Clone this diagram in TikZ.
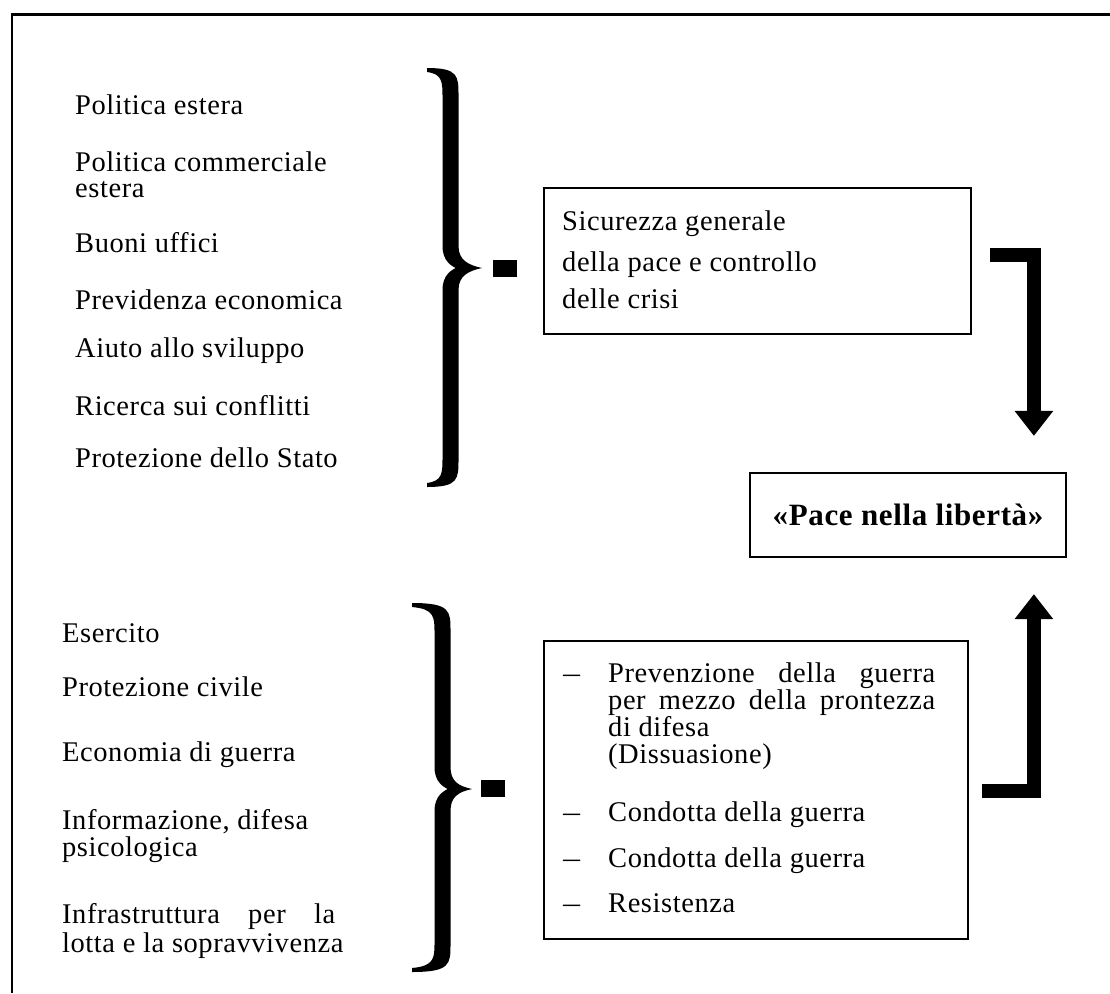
\documentclass[tikz,border=0pt]{standalone}
\usepackage{fontspec}
\setmainfont{Liberation Serif}[LetterSpace=2]
\usetikzlibrary{arrows.meta,calc}
\newcommand\mybrace[6]{% x0, xs, xt, ytop, ymid, ybot
\fill ({#1},{#4}) .. controls ({#2+8},{#4}) and ({#2+8},{#4+8}) .. ({#2+8},{#4+28})
 -- ({#2+8},{#5-22})
 .. controls ({#2+8},{#5-8}) and ({#3-14},{#5-3}) .. ({#3},{#5})
 .. controls ({#3-14},{#5+3}) and ({#2+8},{#5+8}) .. ({#2+8},{#5+22})
 -- ({#2+8},{#6-28})
 .. controls ({#2+8},{#6-8}) and ({#2+8},{#6}) .. ({#1},{#6})
 -- ({#1},{#6-4})
 .. controls ({#2-8},{#6-6}) and ({#2-8},{#6-14}) .. ({#2-8},{#6-30})
 -- ({#2-8},{#5+22})
 .. controls ({#2-8},{#5+6}) and ({#2+2},{#5+2}) .. ({#2+5},{#5})
 .. controls ({#2+2},{#5-2}) and ({#2-8},{#5-6}) .. ({#2-8},{#5-22})
 -- ({#2-8},{#4+30})
 .. controls ({#2-8},{#4+14}) and ({#2-8},{#4+6}) .. ({#1},{#4+4})
 -- cycle;}
\newcommand\dsh{\scalebox{0.6}[1]{—}}
\begin{document}
\begin{tikzpicture}[x=1pt,y=-1pt,
  txt/.style={anchor=base west, inner sep=0pt, font=\fontsize{28.5}{28.5}\selectfont},
  frame/.style={line width=2.5pt},
  box/.style={draw, line width=2.2pt, inner sep=0pt, anchor=north west},
  sq/.style={fill, inner sep=0pt, minimum width=24pt, minimum height=17pt},
  bigarrow/.style={line width=14pt, line join=miter, shorten >=36pt, -{Triangle[width=37pt,length=25pt]}}]
\useasboundingbox (0,0) rectangle (1110,993);
\draw[frame] (12,993) -- (12,14.5) -- (1110,14.5);

% top list
\node[txt] (t1) at (75,114) {Politica estera};
\node[txt] (t2) at (75,171) {Politica commerciale};
\node[txt] (t3) at (75,197) {estera};
\node[txt] (t4) at (75,252) {Buoni uffici};
\node[txt] (t5) at (75,309) {Previdenza economica};
\node[txt] (t6) at (75,357) {Aiuto allo sviluppo};
\node[txt] (t7) at (75,415) {Ricerca sui conflitti};
\node[txt] (t8) at (75,467) {Protezione dello Stato};

% bottom list
\node[txt] (b1) at (62,642) {Esercito};
\node[txt] (b2) at (62,696) {Protezione civile};
\node[txt] (b3) at (62,761) {Economia di guerra};
\node[txt] (b4) at (62,829) {Informazione, difesa};
\node[txt] (b5) at (62,856) {psicologica};
\node[txt] (b6) at (62,923) {\makebox[273pt][s]{Infrastruttura per la}};
\node[txt] (b7) at (62,952) {lotta e la sopravvivenza};

% braces and squares
\mybrace{427}{450.5}{482}{68}{268}{487}
\mybrace{412}{442.5}{472}{603}{789}{972}
\node[sq] (s1) at (505,268.5) {};
\node[sq] (s2) at (492.5,788.5) {};

% top box
\node[box, minimum width=427pt, minimum height=146pt] (topbox) at (543,187) {};
\node[txt] (k1) at (562,230) {Sicurezza generale};
\node[txt] (k2) at (562,271) {della pace e controllo};
\node[txt] (k3) at (562,308) {delle crisi};

% bottom box
\node[box, minimum width=424pt, minimum height=298pt] (botbox) at (543,640) {};
\node[txt] (d1) at (563,682) {\dsh};
\node[txt] (p1) at (608,682) {\makebox[327pt][s]{Prevenzione della guerra}};
\node[txt] (p2) at (608,709) {\makebox[327pt][s]{per mezzo della prontezza}};
\node[txt] (p3) at (608,736) {di difesa};
\node[txt] (p4) at (608,763) {(Dissuasione)};
\node[txt] (d2) at (563,821) {\dsh};
\node[txt] (c1) at (608,821) {Condotta della guerra};
\node[txt] (d3) at (563,867) {\dsh};
\node[txt] (c2) at (608,867) {Condotta della guerra};
\node[txt] (d4) at (563,912) {\dsh};
\node[txt] (r1) at (608,912) {Resistenza};

% centre box
\node[draw, line width=2.2pt, minimum width=316pt, minimum height=84pt, inner sep=0pt,
  font=\fontsize{31}{31}\selectfont\bfseries] (pace) at (908,515) {«Pace nella libertà»};

% arrows
\coordinate (a1) at (990,254.5);
\coordinate (a2) at (982,790.5);
\draw[bigarrow] (a1) -| ($(pace.north west)+(285,0)$);
\draw[bigarrow] (a2) -| ($(pace.south west)+(285,0)$);
\end{tikzpicture}
\end{document}
